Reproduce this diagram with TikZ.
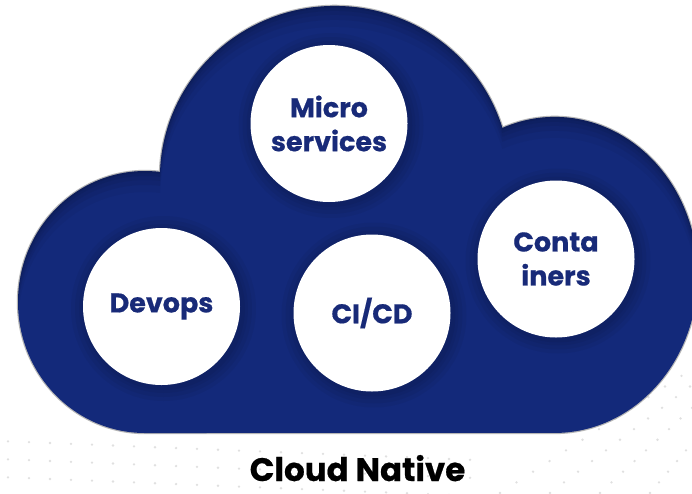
\documentclass[tikz,border=0pt]{standalone}
\usepackage{fontspec}
\setmainfont{Poppins}[BoldFeatures={FakeBold=0.6}]
\definecolor{cloudblue}{RGB}{19,41,122}
\definecolor{txtblue}{RGB}{24,42,120}
\definecolor{dotgray}{RGB}{224,224,224}
\definecolor{rimgray}{RGB}{150,150,150}
\newcommand\cloudoutline{(145,433)
  arc[start angle=90,end angle=276.8,x radius=127,y radius=131]
  arc[start angle=182,end angle=343.1,x radius=175,y radius=172]
  arc[start angle=248.5,end angle=450,x radius=143,y radius=158]
  -- cycle}
\tikzset{
  bubble/.style={circle, fill=white, minimum size=157pt, inner sep=0pt,
    align=center, text=txtblue, font=\bfseries\fontsize{27}{34}\selectfont},
  titletext/.style={font=\bfseries\fontsize{32.5}{34}\selectfont, text=black,
    anchor=base, inner sep=0pt},
  bgdot/.style={fill=dotgray},
  cloudfill/.style={fill=cloudblue},
  cloudrim/.style={draw=rimgray, line width=2.4pt, opacity=0.7}
}
\begin{document}
\begin{tikzpicture}[x=1pt,y=-1pt]
\useasboundingbox (0,0) rectangle (692,493);
\fill[white] (0,0) rectangle (692,493);
% faint background dots
\foreach \j in {0,...,3}{
  \foreach \i in {0,...,22}{
    \pgfmathsetmacro\xx{8+21*\i}
    \pgfmathsetmacro\yy{441+18*\j+0.04*\xx}
    \fill[bgdot] (\xx,\yy) circle[radius=1.3];
  }
}
\foreach \s in {500,550,600,650,700}{
  \foreach \t in {0,0.05,...,0.6}{
    \pgfmathsetmacro\xx{\s+\t*(830-\s)}
    \pgfmathsetmacro\yy{493+\t*(280-493)}
    \fill[bgdot] (\xx,\yy) circle[radius=1.3];
  }
}
% cloud
\draw[cloudrim] \cloudoutline;
\fill[cloudfill] \cloudoutline;
\begin{scope}
  \clip \cloudoutline;
  \foreach \d/\o in {2/0.07,5/0.06,9/0.05,14/0.05,21/0.04}{
    \fill[black, opacity=\o, even odd rule, shift={(0,\d)}]
      (-100,-100) rectangle (800,600) \cloudoutline;
  }
  % soft halos round the circles
  \foreach \cx/\cy in {329/123.5, 161.5/306.5, 372/313, 556/259}{
    \foreach \k in {3,6,10,14}{
      \fill[black, opacity=0.045] (\cx+2,\cy+2) circle[radius=78.5+\k];
    }
  }
\end{scope}
% bubbles
\node[bubble] (micro) at (329,123.5) {Micro\\services};
\node[bubble] (devops) at (161.5,306.5) {\raisebox{-2pt}{Devops}};
\node[bubble] (cicd) at (372,313) {CI/CD};
\node[bubble] (cont) at (556,259) {Conta\\iners};
% title
\node[titletext] (title) at (357.5,481) {Cloud Native};
\end{tikzpicture}
\end{document}
